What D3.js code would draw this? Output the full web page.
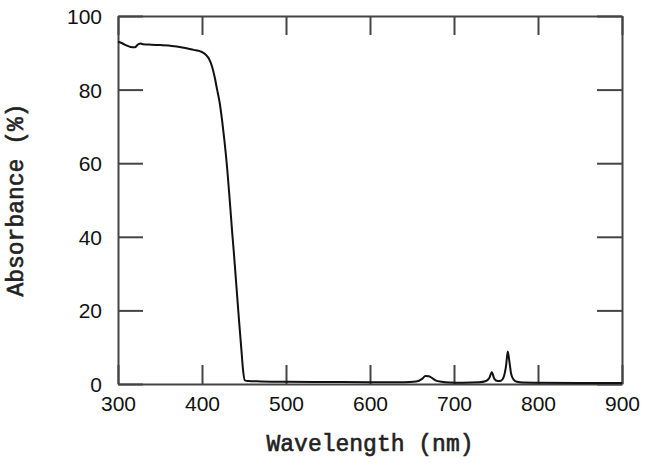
<!DOCTYPE html>
<html>
<head>
<meta charset="utf-8">
<script src="https://cdn.jsdelivr.net/npm/d3@7"></script>
<style>
  body { margin: 0; background: #fff; }
  .tick text { font-family: "Liberation Sans", Arial, sans-serif; font-size: 21px; fill: #111; }
  .title { font-family: "Liberation Mono", "Courier New", monospace; font-size: 23px; fill: #222; stroke: #222; stroke-width: 0.6px; }
</style>
</head>
<body>
<svg id="chart"></svg>
<script>
// spectrum
const wavelength = [300, 305, 310, 315, 320, 324, 327, 330, 340, 350, 360, 370, 380, 390, 398, 404, 408, 412, 415, 418, 421, 424, 427, 430, 433, 436, 438, 441, 444, 447, 449, 451, 455, 470, 500, 550, 600, 640, 655, 662, 666, 670, 674, 678, 685, 695, 710, 730, 738, 742, 745, 748, 752, 756, 759, 762, 764, 766, 768, 771, 775, 782, 800, 850, 900];
const absorbance = [93.0, 92.6, 92.0, 91.6, 91.5, 92.3, 92.5, 92.3, 92.2, 92.1, 92.0, 91.7, 91.3, 90.8, 90.4, 89.6, 88.5, 86.2, 83.5, 80.0, 76.5, 71.5, 65.5, 58.5, 50.0, 41.0, 35.5, 26.5, 17.5, 9.0, 3.5, 1.0, 0.8, 0.7, 0.6, 0.55, 0.5, 0.5, 0.7, 1.4, 2.2, 2.1, 1.6, 1.0, 0.6, 0.4, 0.35, 0.45, 0.8, 1.6, 3.2, 1.4, 0.8, 0.9, 1.8, 5.0, 8.8, 6.0, 2.8, 1.2, 0.6, 0.4, 0.35, 0.3, 0.3];
const xTicks = [300, 400, 500, 600, 700, 800, 900];
const yTicks = [0, 20, 40, 60, 80, 100];

const W = 645, H = 465;
const margin = { top: 16, right: 23, bottom: 81, left: 118 };
const width = W - margin.left - margin.right;
const height = H - margin.top - margin.bottom;

const svg = d3.select("#chart").attr("width", W).attr("height", H);
const g = svg.append("g").attr("transform", `translate(${margin.left},${margin.top})`);

const x = d3.scaleLinear().domain([300, 900]).range([0, width]);
const y = d3.scaleLinear().domain([0, 100]).range([height, 0]);

const axisColor = "#444";

// ticks point inward on all four sides
const axBottom = g.append("g").attr("transform", `translate(0,${height})`)
    .call(d3.axisBottom(x).tickValues(xTicks).tickSize(-19).tickPadding(12).tickSizeOuter(0));
const axLeft = g.append("g")
    .call(d3.axisLeft(y).tickValues(yTicks).tickSize(-25).tickPadding(16).tickSizeOuter(0));
const axTop = g.append("g")
    .call(d3.axisTop(x).tickValues(xTicks).tickSize(-19).tickFormat("").tickSizeOuter(0));
const axRight = g.append("g").attr("transform", `translate(${width},0)`)
    .call(d3.axisRight(y).tickValues(yTicks).tickSize(-25).tickFormat("").tickSizeOuter(0));

[axBottom, axLeft, axTop, axRight].forEach(a => {
    a.select(".domain").attr("stroke", axisColor).attr("stroke-width", 2);
    a.selectAll(".tick line").attr("stroke", axisColor).attr("stroke-width", 2);
});
axLeft.selectAll(".tick text").attr("dy", "0.36em");

const line = d3.line()
    .x((d, i) => x(wavelength[i]))
    .y(d => y(d))
    .curve(d3.curveMonotoneX);

g.append("path")
    .datum(absorbance)
    .attr("fill", "none")
    .attr("stroke", "#111")
    .attr("stroke-width", 2)
    .attr("d", line);

svg.append("text")
    .attr("class", "title")
    .attr("x", margin.left + width / 2)
    .attr("y", 451)
    .attr("text-anchor", "middle")
    .text("Wavelength (nm)");

svg.append("text")
    .attr("class", "title")
    .attr("transform", `translate(23,${margin.top + height / 2}) rotate(-90)`)
    .attr("text-anchor", "middle")
    .text("Absorbance (%)");
</script>
</body>
</html>
